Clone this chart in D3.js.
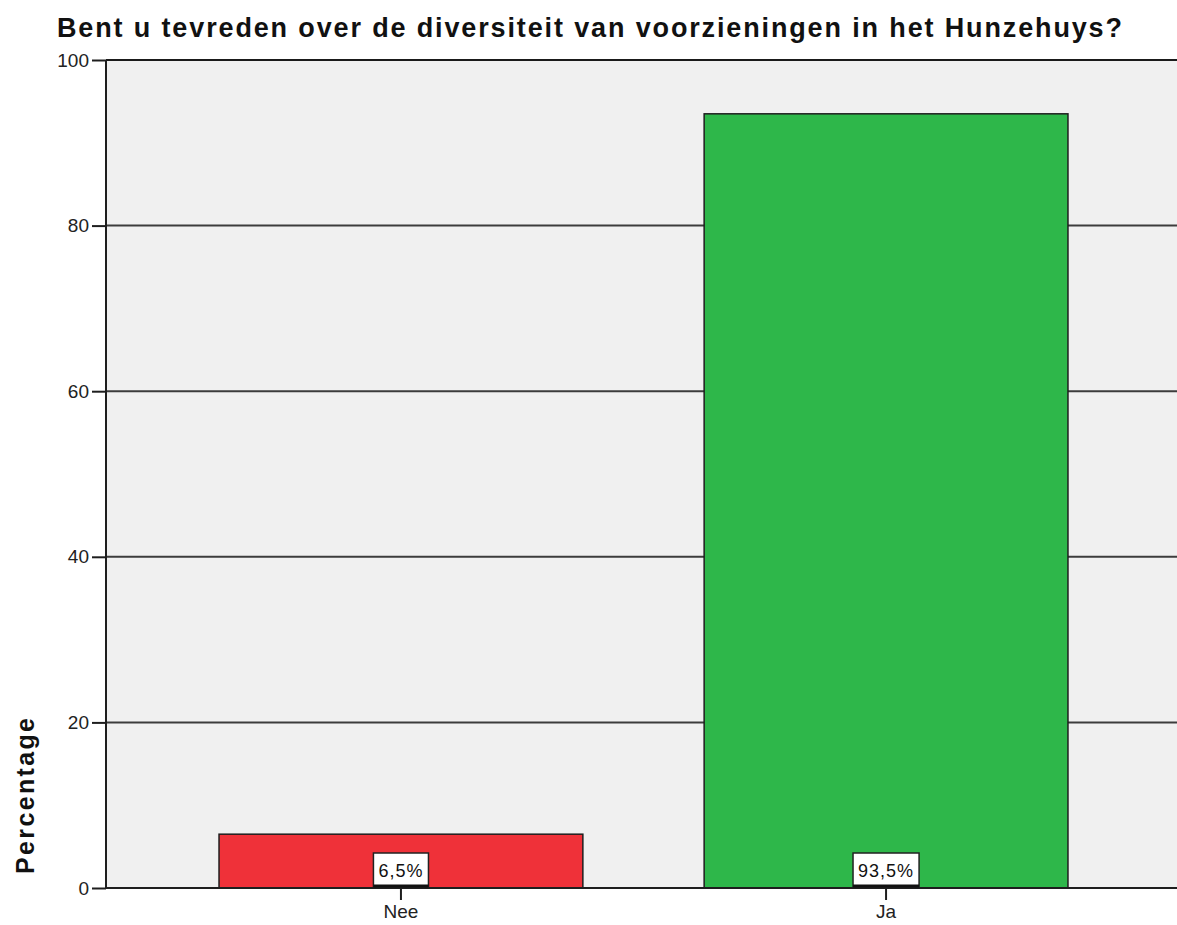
<!DOCTYPE html>
<html>
<head>
<meta charset="utf-8">
<script src="https://cdn.jsdelivr.net/npm/d3@7"></script>
<style>
  body { margin: 0; background: #fff; }
  text { font-family: Arial, "Liberation Sans", sans-serif; }
</style>
</head>
<body>
<div id="chart"></div>
<script>
var categories = ["Nee", "Ja"];
var percentages = [6.5, 93.5];
var valueLabels = ["6,5%", "93,5%"];
var barColors = ["#ef3139", "#2eb74a"];
var yTicks = [0, 20, 40, 60, 80, 100];

var width = 1177, height = 925;
var plot = {left: 106, right: 1181, top: 60, bottom: 888};

var svg = d3.select("#chart")
    .append("svg")
    .attr("width", width)
    .attr("height", height)

var xScale = d3.scaleBand()
    .domain(categories)
    .range([plot.left, plot.right])
    .paddingInner(0.25)
    .paddingOuter(0.233)

var yScale = d3.scaleLinear()
    .domain([0, 100])
    .range([plot.bottom, plot.top])

// plot background
svg.append("rect")
    .attr("x", plot.left)
    .attr("y", plot.top)
    .attr("width", width - plot.left)
    .attr("height", plot.bottom - plot.top)
    .attr("fill", "#f0f0f0")

// gridlines
svg.append("g")
    .selectAll("line")
    .data(yTicks.filter(d => d > 0 && d < 100))
    .enter()
    .append("line")
    .attr("x1", plot.left)
    .attr("x2", width)
    .attr("y1", d => yScale(d))
    .attr("y2", d => yScale(d))
    .attr("stroke", "#3c3c3c")
    .attr("stroke-width", 2)

// top border
svg.append("line")
    .attr("x1", plot.left).attr("x2", width)
    .attr("y1", plot.top).attr("y2", plot.top)
    .attr("stroke", "#1a1a1a").attr("stroke-width", 2)

// bars
svg.append("g")
    .selectAll("rect")
    .data(percentages)
    .enter()
    .append("rect")
    .attr("x", (d, i) => xScale(categories[i]))
    .attr("y", d => yScale(d))
    .attr("width", xScale.bandwidth())
    .attr("height", d => yScale(0) - yScale(d))
    .attr("fill", (d, i) => barColors[i])
    .attr("stroke", "#1e1e1e")
    .attr("stroke-width", 1.5)

// y axis
var yAxis = d3.axisLeft(yScale)
    .tickValues(yTicks)
    .tickSize(14)
    .tickPadding(3)

var yG = svg.append("g")
    .attr("transform", "translate(" + plot.left + ",0)")
    .call(yAxis)
yG.select(".domain").remove()
yG.selectAll(".tick line").attr("stroke", "#1e1e1e").attr("stroke-width", 2)
yG.selectAll(".tick text")
    .attr("font-size", 19)
    .attr("fill", "#222")
    .style("font-family", "Arial, 'Liberation Sans', sans-serif")

svg.append("line")
    .attr("x1", plot.left).attr("x2", plot.left)
    .attr("y1", plot.top).attr("y2", plot.bottom)
    .attr("stroke", "#1e1e1e").attr("stroke-width", 2)

// x axis
var xAxis = d3.axisBottom(xScale)
    .tickSize(12)
    .tickPadding(5)

var xG = svg.append("g")
    .attr("transform", "translate(0," + plot.bottom + ")")
    .call(xAxis)
xG.select(".domain").remove()
xG.selectAll(".tick line").attr("stroke", "#1e1e1e").attr("stroke-width", 2)
xG.selectAll(".tick text")
    .attr("font-size", 19)
    .attr("fill", "#222")
    .style("font-family", "Arial, 'Liberation Sans', sans-serif")

svg.append("line")
    .attr("x1", plot.left).attr("x2", width)
    .attr("y1", plot.bottom).attr("y2", plot.bottom)
    .attr("stroke", "#1e1e1e").attr("stroke-width", 2)

// value label boxes
var labels = svg.append("g")
    .selectAll("g")
    .data(valueLabels)
    .enter()
    .append("g")
    .attr("transform", (d, i) => "translate(" + (xScale(categories[i]) + xScale.bandwidth() / 2) + "," + plot.bottom + ")")

labels.append("text")
    .attr("x", 0)
    .attr("y", -11)
    .attr("text-anchor", "middle")
    .attr("font-size", 18)
    .attr("letter-spacing", 1)
    .attr("fill", "#111")
    .text(d => d)

labels.each(function() {
    var g = d3.select(this)
    var w = g.select("text").node().getComputedTextLength() + 10
    g.insert("rect", "text")
        .attr("x", -w / 2)
        .attr("y", -35)
        .attr("width", w)
        .attr("height", 34)
        .attr("fill", "#fff")
        .attr("stroke", "#222")
        .attr("stroke-width", 1.5)
    g.insert("line", "text")
        .attr("x1", -w / 2).attr("x2", w / 2)
        .attr("y1", -2).attr("y2", -2)
        .attr("stroke", "#111").attr("stroke-width", 3)
})

// title
svg.append("text")
    .attr("x", 57)
    .attr("y", 37)
    .attr("font-size", 27)
    .attr("font-weight", "bold")
    .attr("textLength", 1065)
    .attr("lengthAdjust", "spacing")
    .attr("fill", "#111")
    .text("Bent u tevreden over de diversiteit van voorzieningen in het Hunzehuys?")

// y axis title
svg.append("text")
    .attr("transform", "translate(34,796) rotate(-90)")
    .attr("x", -78)
    .attr("font-size", 25)
    .attr("font-weight", "bold")
    .attr("textLength", 156)
    .attr("lengthAdjust", "spacing")
    .attr("fill", "#111")
    .text("Percentage")
</script>
</body>
</html>
